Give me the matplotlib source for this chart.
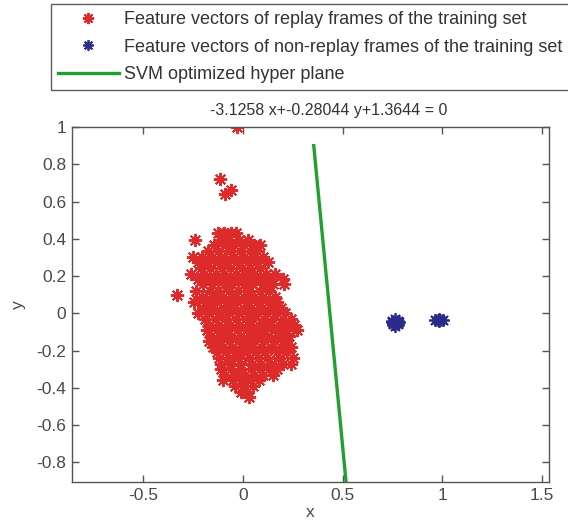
import numpy as np
import matplotlib
matplotlib.use('Agg')
import matplotlib.pyplot as plt

plt.rcParams['font.family'] = ['Liberation Sans', 'DejaVu Sans']

# Coeficientes del hiperplano (del titulo): a*x + b*y + c = 0
coef_a, coef_b, coef_c = -3.1258, -0.28044, 1.3644
line_y = [0.9, -0.905]

# Vectores de caracteristicas "replay" (rojo), leidos por filas (y, [x...])
red_rows = [
    (0.43, [-0.125, -0.095, -0.06, -0.035]),
    (0.395, [-0.24, -0.115, -0.075, -0.02, 0.025]),
    (0.365, [-0.145, -0.085, -0.045, 0.005, 0.055, 0.085]),
    (0.335, [-0.175, -0.125, -0.065, -0.015, 0.035, 0.07]),
    (0.30, [-0.25, -0.205, -0.155, -0.11, -0.045, 0.005, 0.045, 0.10]),
    (0.275, [-0.225, -0.185, -0.125, -0.08, -0.03, 0.025, 0.065, 0.125]),
    (0.245, [-0.21, -0.165, -0.105, -0.065, -0.005, 0.035, 0.085]),
    (0.21, [-0.26, -0.195, -0.135, -0.095, -0.035, 0.015, 0.055, 0.115, 0.16]),
    (0.185, [-0.225, -0.17, -0.115, -0.07, -0.015, 0.035, 0.08, 0.14, 0.20]),
    (0.155, [-0.20, -0.155, -0.095, -0.055, 0.005, 0.045, 0.105, 0.15, 0.205]),
    (0.12, [-0.235, -0.165, -0.125, -0.07, -0.025, 0.03, 0.085, 0.13]),
    (0.10, [-0.33]),
    (0.09, [-0.205, -0.145, -0.10, -0.045, 0.005, 0.055, 0.095, 0.16]),
    (0.06, [-0.245, -0.18, -0.135, -0.075, -0.03, 0.025, 0.07, 0.125, 0.17]),
    (0.03, [-0.20, -0.155, -0.095, -0.055, 0.005, 0.04, 0.095, 0.145, 0.19]),
    (0.00, [-0.225, -0.175, -0.115, -0.07, -0.025, 0.03, 0.075, 0.12, 0.17, 0.21]),
    (-0.03, [-0.19, -0.135, -0.09, -0.035, 0.015, 0.05, 0.105, 0.15, 0.20, 0.24]),
    (-0.06, [-0.17, -0.125, -0.065, -0.02, 0.035, 0.08, 0.13, 0.18, 0.22, 0.255]),
    (-0.09, [-0.18, -0.13, -0.085, -0.025, 0.02, 0.065, 0.10, 0.16, 0.21, 0.27]),
    (-0.12, [-0.16, -0.105, -0.06, -0.015, 0.04, 0.085, 0.12, 0.185, 0.23]),
    (-0.15, [-0.17, -0.125, -0.07, -0.02, 0.025, 0.06, 0.105, 0.16, 0.215]),
    (-0.18, [-0.15, -0.10, -0.055, 0.005, 0.045, 0.09, 0.14, 0.19, 0.24]),
    (-0.21, [-0.13, -0.085, -0.03, 0.02, 0.065, 0.11, 0.17, 0.22]),
    (-0.24, [-0.12, -0.07, -0.025, 0.03, 0.075, 0.12, 0.18, 0.25]),
    (-0.27, [-0.11, -0.065, -0.01, 0.045, 0.09, 0.14, 0.20, 0.24]),
    (-0.30, [-0.11, -0.06, -0.015, 0.04, 0.085, 0.13, 0.17]),
    (-0.33, [-0.09, -0.04, 0.01, 0.055, 0.10, 0.15]),
    (-0.36, [-0.10, -0.05, 0.00, 0.04, 0.08]),
    (-0.39, [-0.04, 0.00, 0.05]),
    (-0.42, [-0.01, 0.02]),
    (-0.45, [0.03]),
    (0.64, [-0.09]),
    (0.66, [-0.06]),
    (0.72, [-0.115]),
    (1.00, [-0.03]),
]

# Vectores "non-replay" (azul)
blue_x = [0.765, 0.750, 0.780, 0.752, 0.778, 0.765, 0.765, 0.746, 0.784, 0.760,
          0.965, 0.978, 0.990, 1.002, 0.984, 0.984]
blue_y = [-0.048, -0.040, -0.040, -0.058, -0.058, -0.030, -0.066, -0.048, -0.048, -0.052,
          -0.036, -0.036, -0.036, -0.036, -0.030, -0.042]

red_x = [x for y, xs in red_rows for x in xs]
red_y = [y for y, xs in red_rows for x in xs]

line_x = [-(coef_b * y + coef_c) / coef_a for y in line_y]

asterisk = (8, 2, 0)
fig = plt.figure(figsize=(5.68, 5.29), dpi=100)
ax = fig.add_axes([72 / 568, 1 - 482 / 529, 477 / 568, 355 / 529])

ax.plot(red_x, red_y, linestyle='none', marker=asterisk, markersize=9.5,
        markeredgewidth=1.4, color='#dd2a2a',
        label='Feature vectors of replay frames of the training set')
ax.plot(blue_x, blue_y, linestyle='none', marker=asterisk, markersize=9,
        markeredgewidth=1.3, color='#2b2b8c',
        label='Feature vectors of non-replay frames of the training set')
ax.plot(line_x, line_y, color='#22a02e', linewidth=2.4,
        label='SVM optimized hyper plane')

ax.set_xlim(-0.856, 1.535)
ax.set_ylim(-0.905, 1.0)
ax.set_xticks([-0.5, 0, 0.5, 1, 1.5])
ax.set_xticklabels(['-0.5', '0', '0.5', '1', '1.5'])
ax.set_yticks([-0.8, -0.6, -0.4, -0.2, 0, 0.2, 0.4, 0.6, 0.8, 1])
ax.set_yticklabels(['-0.8', '-0.6', '-0.4', '-0.2', '0', '0.2', '0.4', '0.6', '0.8', '1'])

gray = '#4a4a4a'
for s in ax.spines.values():
    s.set_color('#555555')
    s.set_linewidth(1.0)
ax.tick_params(direction='in', top=True, right=True, length=5, width=1,
               colors='#555555', labelcolor=gray, labelsize=12.5, pad=4)

ax.set_xlabel('x', fontsize=12.5, color=gray, labelpad=2)
ax.set_ylabel('y', fontsize=12.5, color=gray, labelpad=8)
ax.set_title('-3.1258 x+-0.28044 y+1.3644 = 0', fontsize=11.5, color='#333333',
             x=0.538, pad=9)

leg = fig.legend(loc='upper left', bbox_to_anchor=(51 / 568, 1 - 4 / 529),
                 fontsize=13, frameon=True, fancybox=False, handlelength=3.35,
                 handletextpad=0.28, labelspacing=0.58, borderpad=0.4,
                 borderaxespad=0, markerscale=0.85)
leg.get_frame().set_edgecolor('#333333')
leg.get_frame().set_linewidth(1.0)
for t in leg.get_texts():
    t.set_color('#333333')

fig.savefig('out.png', dpi=100)
